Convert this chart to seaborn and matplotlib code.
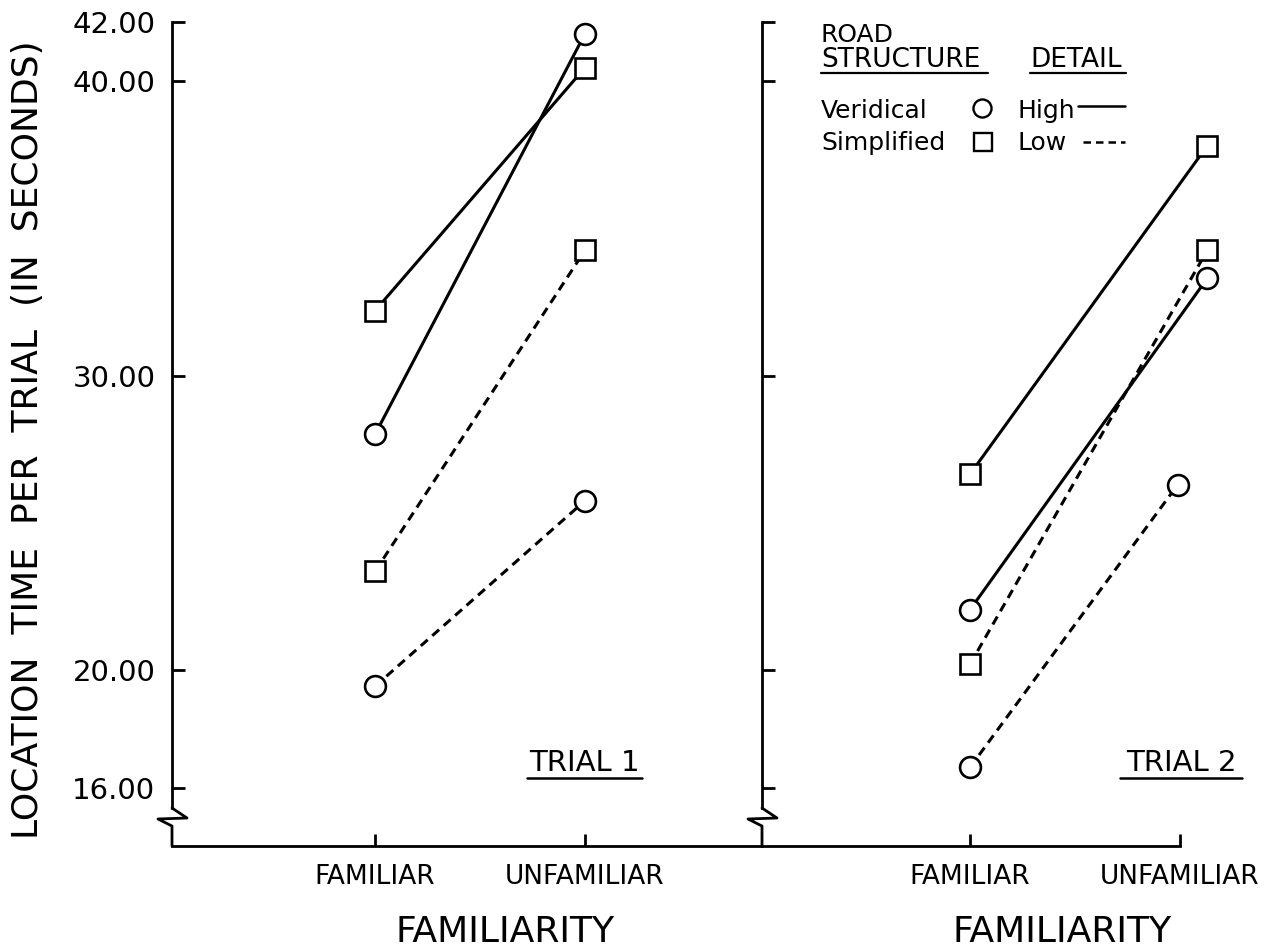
import pandas as pd
import numpy as np
from matplotlib import pyplot as plt
from matplotlib.lines import Line2D
import seaborn as sns

# data
familiarity = ["FAMILIAR", "UNFAMILIAR"]
y_ticks = [16, 20, 30, 40, 42]
y_ticklabels = ["16.00", "20.00", "30.00", "40.00", "42.00"]

# trial 1 (x: 1 = familiar, 2 = unfamiliar)
t1_x = [1, 2]
t1_veridical_high = [28.0, 41.6]
t1_simplified_high = [32.2, 40.45]
t1_simplified_low = [23.35, 34.25]
t1_veridical_low = [19.45, 25.75]

# trial 2 (unfamiliar points are drawn slightly off the tick in the original)
t2_x_offset = [1, 2.13]
t2_x_low_circle = [1, 1.99]
t2_veridical_high = [22.05, 33.3]
t2_simplified_high = [26.65, 37.8]
t2_simplified_low = [20.2, 34.25]
t2_veridical_low = [16.7, 26.3]

W, H = 1274, 950


def fx(px):
    return px / W


def fy(py):
    return 1 - py / H


def series(ax, x, y, marker, dashed):
    df = pd.DataFrame({"x": x, "y": y})
    ls = (0, (3, 2)) if dashed else "-"
    sns.lineplot(data=df, x="x", y="y", ax=ax, color="black", linewidth=2.2,
                 linestyle=ls, marker=marker, markersize=15,
                 markerfacecolor="white", markeredgecolor="black",
                 markeredgewidth=1.9, clip_on=False, sort=False)


def draw_break(fig, x0):
    xs = [x0, x0 + 15, x0 - 14, x0, x0]
    ys = [808, 818, 819, 826, 846]
    fig.add_artist(Line2D([fx(v) for v in xs], [fy(v) for v in ys],
                          color="black", lw=2))


def style_axis(ax, xlim, show_ylabels):
    ax.set_xlim(*xlim)
    ax.set_ylim(14.03, 42)
    ax.set_xticks([1, 2])
    ax.set_xticklabels(familiarity)
    ax.set_yticks(y_ticks)
    ax.set_yticklabels(y_ticklabels if show_ylabels else [])
    for s in ["top", "right"]:
        ax.spines[s].set_visible(False)
    ax.spines["left"].set_bounds(15.32, 42)
    ax.spines["left"].set_linewidth(2)
    ax.spines["bottom"].set_linewidth(2)
    ax.spines["left"].set_color("black")
    ax.spines["bottom"].set_color("black")
    ax.tick_params(axis="y", left=True, right=False, direction="in",
                   length=9, width=2, pad=12, labelsize=21, colors="black")
    ax.tick_params(axis="x", bottom=True, top=False, direction="in",
                   length=9, width=2, pad=13, labelsize=19, colors="black")
    ax.set_xlabel("")
    ax.set_ylabel("")


sns.set_style("white")
plt.rcParams["font.family"] = ["DejaVu Sans"]
plt.rcParams["text.color"] = "black"

fig = plt.figure(figsize=(12.74, 9.5), dpi=100)
ax1 = fig.add_axes([fx(172), fy(846), fx(762 - 172), (846 - 22) / H])
ax2 = fig.add_axes([fx(762), fy(846), fx(1180 - 762), (846 - 22) / H])
ax1.patch.set_alpha(0)
ax2.patch.set_alpha(0)

series(ax1, t1_x, t1_simplified_high, "s", False)
series(ax1, t1_x, t1_veridical_high, "o", False)
series(ax1, t1_x, t1_simplified_low, "s", True)
series(ax1, t1_x, t1_veridical_low, "o", True)

series(ax2, t2_x_offset, t2_simplified_high, "s", False)
series(ax2, t2_x_offset, t2_veridical_high, "o", False)
series(ax2, t2_x_offset, t2_simplified_low, "s", True)
series(ax2, t2_x_low_circle, t2_veridical_low, "o", True)

style_axis(ax1, (1 - 203 / 210, 2 + 177 / 210), True)
style_axis(ax2, (1 - 208 / 210, 2.0), False)

draw_break(fig, 172)
draw_break(fig, 762)

# axis titles
fig.text(fx(28), fy(440), "LOCATION  TIME  PER  TRIAL  (IN  SECONDS)",
         rotation=90, ha="center", va="center", fontsize=26)
fig.text(fx(505), fy(932), "FAMILIARITY", ha="center", va="center", fontsize=26)
fig.text(fx(1062), fy(932), "FAMILIARITY", ha="center", va="center", fontsize=26)

# panel labels, underlined
for label, x0, x1 in [("TRIAL 1", 527, 642), ("TRIAL 2", 1120, 1242)]:
    fig.text(fx((x0 + x1) / 2), fy(771), label, ha="center", va="baseline",
             fontsize=21)
    fig.add_artist(Line2D([fx(x0), fx(x1)], [fy(778), fy(778)],
                          color="black", lw=1.8))

# hand-made key
fig.text(fx(821), fy(42), "ROAD", ha="left", va="baseline", fontsize=18)
fig.text(fx(821), fy(67), "STRUCTURE", ha="left", va="baseline", fontsize=19)
fig.text(fx(1030), fy(67), "DETAIL", ha="left", va="baseline", fontsize=19)
for x0, x1 in [(821, 988), (1030, 1126)]:
    fig.add_artist(Line2D([fx(x0), fx(x1)], [fy(73), fy(73)],
                          color="black", lw=1.6))

fig.text(fx(821), fy(118), "Veridical", ha="left", va="baseline", fontsize=18)
fig.text(fx(821), fy(150), "Simplified", ha="left", va="baseline", fontsize=18)
fig.text(fx(1017), fy(118), "High", ha="left", va="baseline", fontsize=18)
fig.text(fx(1018), fy(150), "Low", ha="left", va="baseline", fontsize=18)
fig.add_artist(Line2D([fx(982)], [fy(108)], marker="o", markersize=13,
                      markerfacecolor="white", markeredgecolor="black",
                      markeredgewidth=1.7, linestyle="none"))
fig.add_artist(Line2D([fx(983)], [fy(142)], marker="s", markersize=13,
                      markerfacecolor="white", markeredgecolor="black",
                      markeredgewidth=1.7, linestyle="none"))
fig.add_artist(Line2D([fx(1078), fx(1125)], [fy(106), fy(106)],
                      color="black", lw=1.8))
fig.add_artist(Line2D([fx(1083), fx(1125)], [fy(142), fy(142)],
                      color="black", lw=1.8, linestyle=(0, (3, 2))))

fig.savefig("out.png", dpi=100)
